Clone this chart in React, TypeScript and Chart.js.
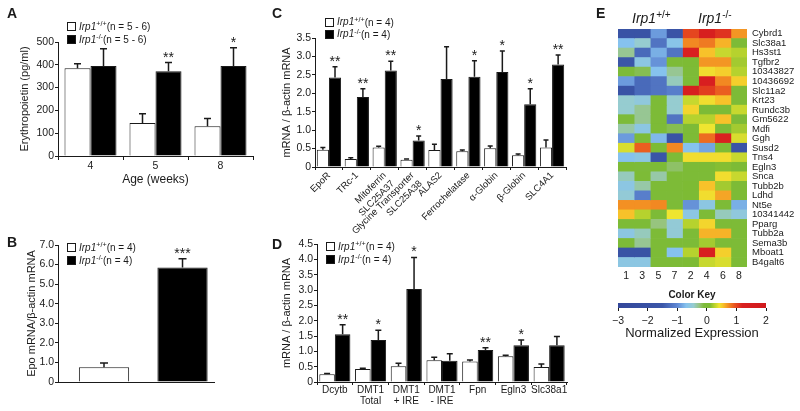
import React, { useEffect, useRef } from "react";
import { Chart, registerables } from "chart.js";

Chart.register(...registerables);

const FONT = "'Liberation Sans', Arial, Helvetica, sans-serif";
const INK = "#1a1a1a";
Chart.defaults.font.family = FONT;
Chart.defaults.color = INK;

// ---------- Panel A : serum erythropoietin ----------
const aAges = ["4", "5", "8"];
const aWT = [385, 145, 130];
const aWTErr = [20, 40, 35];
const aKO = [395, 372, 395];
const aKOErr = [75, 38, 80];
const aKOStars = ["", "**", "*"];

// ---------- Panel B : kidney Epo mRNA ----------
const bGenotypes = ["Irp1+/+", "Irp1-/-"];
const bValues = [0.75, 5.85];
const bErr = [0.22, 0.45];
const bStars = ["", "***"];

// ---------- Panel C : erythroid genes ----------
const cGenes = [
  ["EpoR"],
  ["TRc-1"],
  ["Mitoferrin", "SLC25A37"],
  ["Glycine Transporter", "SLC25A38"],
  ["ALAS2"],
  ["Ferrochelatase"],
  ["α-Globin"],
  ["β-Globin"],
  ["SLC4A1"],
];
const cWT = [0.47, 0.22, 0.53, 0.2, 0.46, 0.43, 0.51, 0.32, 0.53];
const cWTErr = [0.06, 0.03, 0.03, 0.02, 0.16, 0.03, 0.06, 0.03, 0.2];
const cKO = [2.43, 1.9, 2.62, 0.72, 2.39, 2.45, 2.58, 1.7, 2.78];
const cKOErr = [0.29, 0.22, 0.25, 0.12, 0.87, 0.43, 0.57, 0.42, 0.26];
const cKOStars = ["**", "**", "**", "*", "", "*", "*", "*", "**"];

// ---------- Panel D : iron transport genes ----------
const dGenes = [
  ["Dcytb"],
  ["DMT1", "Total"],
  ["DMT1", "+ IRE"],
  ["DMT1", "- IRE"],
  ["Fpn"],
  ["Egln3"],
  ["Slc38a1"],
];
const dWT = [0.25, 0.42, 0.51, 0.71, 0.67, 0.84, 0.49];
const dWTErr = [0.03, 0.03, 0.1, 0.1, 0.05, 0.03, 0.1];
const dKO = [1.56, 1.37, 3.03, 0.69, 1.04, 1.2, 1.2];
const dKOErr = [0.31, 0.32, 1.03, 0.23, 0.08, 0.17, 0.28];
const dKOStars = ["**", "*", "*", "", "**", "*", ""];

// ---------- Panel E : heatmap ----------
const heatSamples = ["1", "3", "5", "7", "2", "4", "6", "8"];
const heatGenes = [
  "Cybrd1", "Slc38a1", "Hs3st1", "Tgfbr2", "10343827", "10436692", "Slc11a2",
  "Krt23", "Rundc3b", "Gm5622", "Mdfi", "Ggh", "Susd2", "Tns4", "Egln3", "Snca",
  "Tubb2b", "Ldhd", "Nt5e", "10341442", "Pparg", "Tubb2a", "Sema3b", "Mboat1", "B4galt6",
];
const heatValues = [
  [-1.8, -1.8, -0.9, -1.7, 1.0, 1.4, 1.1, 0.7],
  [-0.7, -0.45, -1.2, -0.65, 0.75, 0.8, 0.6, 0.0],
  [-0.3, -1.3, -0.8, -1.2, 1.2, 0.55, 0.3, 0.25],
  [-1.5, -0.6, -0.95, 0.0, 0.1, 0.7, 0.7, 0.2],
  [-0.05, -0.15, -0.7, -0.3, 0.0, 0.45, 0.5, 0.25],
  [-0.9, -1.3, -1.2, -0.4, 0.0, 1.3, 0.75, 0.5],
  [-1.8, -1.3, -1.2, -1.1, 1.4, 1.05, 0.9, 0.0],
  [-0.45, -0.55, 0.0, -0.45, 0.3, 0.45, 0.55, 0.0],
  [-0.45, -0.3, 0.0, -0.45, 0.48, 0.05, 0.05, 0.3],
  [-0.1, -0.3, 0.0, -1.2, 0.25, 0.25, 0.55, 0.0],
  [-0.35, -0.6, 0.0, -0.15, 0.0, 0.42, 0.05, 0.2],
  [-0.9, 0.0, -0.75, -1.8, 0.05, 0.85, 1.2, 0.35],
  [0.35, 0.9, 0.05, 0.75, -0.7, -0.85, 0.0, -1.7],
  [-0.7, -0.6, -1.6, 0.0, 0.45, 0.45, 0.45, 0.3],
  [0.0, -0.1, 0.0, -0.2, 0.0, 0.05, 0.12, 0.05],
  [-0.4, 0.0, -0.35, 0.0, 0.0, 0.0, 0.45, 0.3],
  [-0.6, -0.35, 0.0, 0.0, 0.1, 0.55, 0.2, 0.05],
  [-0.5, -1.1, 0.0, 0.0, 0.1, 0.45, 0.65, 0.05],
  [0.72, 0.72, 0.75, 0.0, -0.95, -0.6, 0.0, -0.8],
  [0.55, 0.25, 0.0, 0.42, -0.6, 0.0, -0.4, -0.55],
  [0.0, 0.0, -0.25, -0.5, 0.25, 0.48, 0.0, 0.0],
  [-0.6, -0.4, 0.0, -0.5, 0.0, 0.6, 0.6, 0.0],
  [0.0, -0.3, 0.0, 0.0, 0.0, 0.2, 0.0, 0.0],
  [-1.8, -1.8, 0.0, -0.7, 0.25, 1.3, 0.5, 0.0],
  [-0.6, -0.6, 0.0, 0.0, 0.1, 0.3, 0.35, 0.0],
];
const keyRange = [-3, 2];
const keyStops: [number, string][] = [
  [-3, "#33479a"],
  [-1.5, "#3b56a8"],
  [-1.0, "#5f88d4"],
  [-0.7, "#86c2ee"],
  [-0.45, "#96ccd0"],
  [-0.25, "#97c47e"],
  [-0.1, "#7dbb3a"],
  [0.1, "#7dbb34"],
  [0.25, "#b6d22e"],
  [0.42, "#efe530"],
  [0.55, "#f7c22a"],
  [0.72, "#f39023"],
  [0.95, "#e8501f"],
  [1.2, "#d92020"],
  [2, "#d01a1d"],
];

function hexToRgb(h: string) {
  const n = parseInt(h.slice(1), 16);
  return [(n >> 16) & 255, (n >> 8) & 255, n & 255];
}
function colorFor(v: number) {
  if (v <= keyStops[0][0]) return keyStops[0][1];
  for (let i = 1; i < keyStops.length; i++) {
    const [v1, c1] = keyStops[i];
    const [v0, c0] = keyStops[i - 1];
    if (v <= v1) {
      const t = (v - v0) / (v1 - v0);
      const a = hexToRgb(c0);
      const b = hexToRgb(c1);
      const m = a.map((x, k) => Math.round(x + (b[k] - x) * t));
      return `rgb(${m[0]},${m[1]},${m[2]})`;
    }
  }
  return keyStops[keyStops.length - 1][1];
}

// ---------- error bars + significance stars ----------
const errorBarPlugin = {
  id: "errorBars",
  afterDatasetsDraw(chart: any) {
    const ctx = chart.ctx;
    chart.data.datasets.forEach((ds: any, i: number) => {
      if (!ds.errors) return;
      const meta = chart.getDatasetMeta(i);
      const ys = chart.scales[meta.yAxisID];
      meta.data.forEach((bar: any, j: number) => {
        const raw = ds.data[j];
        const v = typeof raw === "number" ? raw : raw.y;
        const top = ys.getPixelForValue(v + ds.errors[j]);
        const cap = ds.capHalf || 3;
        ctx.save();
        ctx.strokeStyle = INK;
        ctx.lineWidth = 1.5;
        ctx.beginPath();
        ctx.moveTo(bar.x, bar.y);
        ctx.lineTo(bar.x, top);
        ctx.moveTo(bar.x - cap, top);
        ctx.lineTo(bar.x + cap, top);
        ctx.stroke();
        if (ds.stars && ds.stars[j]) {
          ctx.fillStyle = INK;
          ctx.font = `14px ${FONT}`;
          ctx.textAlign = "center";
          ctx.textBaseline = "alphabetic";
          ctx.fillText(ds.stars[j], bar.x, top - 1);
        }
        ctx.restore();
      });
    });
  },
};

function yAxis(o: any) {
  return {
    min: o.min,
    max: o.max,
    ticks: {
      stepSize: o.step,
      callback: o.fmt,
      autoSkip: false,
      font: { size: 10.5 },
      color: INK,
      padding: 1,
    },
    grid: { display: true, drawOnChartArea: false, drawTicks: true, tickLength: 3, color: INK },
    border: { display: true, color: INK, width: 1 },
    title: {
      display: true,
      text: o.title,
      font: { size: 11 },
      color: INK,
      padding: { top: o.titlePad, bottom: 0 },
    },
    afterFit: (s: any) => {
      s.width = o.width;
    },
  };
}

const baseOpts = {
  responsive: false,
  animation: false,
  events: [],
  plugins: { legend: { display: false }, tooltip: { enabled: false } },
};

const oneDec = (v: any) => (Number(v) === 0 ? "0" : Number(v).toFixed(1));

function configA() {
  return {
    type: "bar",
    data: {
      labels: aAges,
      datasets: [
        { data: aWT, errors: aWTErr, capHalf: 3.5, backgroundColor: "#fff", borderColor: INK, borderWidth: 1, categoryPercentage: 0.8, barPercentage: 1 },
        { data: aKO, errors: aKOErr, stars: aKOStars, capHalf: 3.5, backgroundColor: "#000", borderColor: INK, borderWidth: 1, categoryPercentage: 0.8, barPercentage: 1 },
      ],
    },
    options: {
      ...baseOpts,
      layout: { padding: { top: 42, right: 9, left: 0, bottom: 0 } },
      scales: {
        x: {
          ticks: { font: { size: 10.5 }, color: INK, padding: 0 },
          grid: { display: true, drawOnChartArea: false, drawTicks: true, tickLength: 4, color: INK, offset: true },
          border: { display: true, color: INK },
          title: { display: true, text: "Age (weeks)", font: { size: 12 }, color: INK, padding: { top: 0, bottom: 8 } },
          afterFit: (s: any) => { s.height = 39; },
        },
        y: yAxis({ min: 0, max: 500, step: 100, fmt: (v: any) => String(v), title: "Erythropoietin (pg/ml)", titlePad: 18, width: 58 }),
      },
    },
    plugins: [errorBarPlugin],
  };
}

function configB() {
  return {
    type: "bar",
    data: {
      datasets: [
        {
          data: bGenotypes.map((_, i) => ({ x: i + 1, y: bValues[i] })),
          errors: bErr,
          stars: bStars,
          capHalf: 4,
          backgroundColor: ["#fff", "#000"],
          borderColor: INK,
          borderWidth: 1,
          categoryPercentage: 1,
          barPercentage: 0.64,
        },
      ],
    },
    options: {
      ...baseOpts,
      layout: { padding: { top: 45, right: 16, left: 0, bottom: 0 } },
      scales: {
        x: {
          type: "linear",
          offset: false,
          min: 0.414,
          max: 2.401,
          ticks: { display: false },
          grid: { display: false },
          border: { display: true, color: INK },
          afterFit: (s: any) => { s.height = 29; },
        },
        y: yAxis({ min: 0, max: 7, step: 1, fmt: oneDec, title: "Epo mRNA/β-actin mRNA", titlePad: 25, width: 58 }),
      },
    },
    plugins: [errorBarPlugin],
  };
}

function configC() {
  return {
    type: "bar",
    data: {
      labels: cGenes,
      datasets: [
        { data: cWT, errors: cWTErr, capHalf: 2.5, backgroundColor: "#fff", borderColor: INK, borderWidth: 1, categoryPercentage: 0.87, barPercentage: 1 },
        { data: cKO, errors: cKOErr, stars: cKOStars, capHalf: 2.5, backgroundColor: "#000", borderColor: INK, borderWidth: 1, categoryPercentage: 0.87, barPercentage: 1 },
      ],
    },
    options: {
      ...baseOpts,
      layout: { padding: { top: 38, right: 9, left: 0, bottom: 0 } },
      scales: {
        x: {
          ticks: { autoSkip: false, minRotation: 45, maxRotation: 45, font: { size: 9.5 }, color: INK, padding: 0 },
          grid: { display: true, drawOnChartArea: false, drawTicks: true, tickLength: 3, color: INK, offset: true },
          border: { display: true, color: INK },
          afterFit: (s: any) => { s.height = 73; },
        },
        y: yAxis({ min: 0, max: 3.5, step: 0.5, fmt: oneDec, title: "mRNA / β-actin mRNA", titlePad: 50, width: 85 }),
      },
    },
    plugins: [errorBarPlugin],
  };
}

function configD() {
  return {
    type: "bar",
    data: {
      labels: dGenes,
      datasets: [
        { data: dWT, errors: dWTErr, capHalf: 3, backgroundColor: "#fff", borderColor: INK, borderWidth: 1, categoryPercentage: 0.87, barPercentage: 1 },
        { data: dKO, errors: dKOErr, stars: dKOStars, capHalf: 3, backgroundColor: "#000", borderColor: INK, borderWidth: 1, categoryPercentage: 0.87, barPercentage: 1 },
      ],
    },
    options: {
      ...baseOpts,
      layout: { padding: { top: 44, right: 8, left: 0, bottom: 0 } },
      scales: {
        x: {
          ticks: { autoSkip: false, maxRotation: 0, font: { size: 10, lineHeight: 1.05 }, color: INK, padding: 0 },
          grid: { display: true, drawOnChartArea: false, drawTicks: true, tickLength: 3, color: INK, offset: true },
          border: { display: true, color: INK },
          afterFit: (s: any) => { s.height = 29; },
        },
        y: yAxis({ min: 0, max: 4.5, step: 0.5, fmt: oneDec, title: "mRNA / β-actin mRNA", titlePad: 50, width: 87 }),
      },
    },
    plugins: [errorBarPlugin],
  };
}

function configHeat() {
  return {
    type: "bar",
    data: {
      labels: heatGenes,
      datasets: heatSamples.map((s, ci) => ({
        label: s,
        data: heatGenes.map(() => 1),
        backgroundColor: heatValues.map((row) => colorFor(row[ci])),
        borderWidth: 0,
        barPercentage: 1,
        categoryPercentage: 1,
      })),
    },
    options: {
      ...baseOpts,
      indexAxis: "y",
      layout: { padding: { top: 29, right: 0, left: 23, bottom: 0 } },
      scales: {
        x: {
          type: "linear",
          stacked: true,
          min: 0,
          max: heatSamples.length,
          afterBuildTicks: (s: any) => {
            s.ticks = heatSamples.map((_, i) => ({ value: i + 0.5 }));
          },
          ticks: {
            autoSkip: false,
            font: { size: 10.5 },
            color: INK,
            padding: 3,
            callback: (v: any) => heatSamples[Math.floor(Number(v))],
          },
          grid: { display: false, drawTicks: false },
          border: { display: false },
          afterFit: (s: any) => { s.height = 23; },
        },
        y: {
          stacked: true,
          position: "right",
          ticks: { autoSkip: false, font: { size: 9.5 }, color: INK, padding: 5 },
          grid: { display: false, drawTicks: false },
          border: { display: false },
          afterFit: (s: any) => { s.width = 53; },
        },
      },
    },
  };
}

function configKey() {
  return {
    type: "bar",
    data: {
      labels: ["key"],
      datasets: [
        {
          data: [keyRange],
          borderWidth: 0,
          barPercentage: 1,
          categoryPercentage: 1,
          backgroundColor: (c: any) => {
            const ch = c.chart;
            const xs = ch.scales && ch.scales.x;
            if (!ch.chartArea || !xs) return "#7dbb34";
            const x0 = xs.getPixelForValue(keyRange[0]);
            const x1 = xs.getPixelForValue(keyRange[1]);
            const g = ch.ctx.createLinearGradient(x0, 0, x1, 0);
            keyStops.forEach(([v, col]) => g.addColorStop((v - keyRange[0]) / (keyRange[1] - keyRange[0]), col));
            return g;
          },
        },
      ],
    },
    options: {
      ...baseOpts,
      indexAxis: "y",
      layout: { padding: { top: 18, right: 34, left: 23, bottom: 0 } },
      scales: {
        x: {
          type: "linear",
          min: keyRange[0],
          max: keyRange[1],
          ticks: {
            stepSize: 1,
            font: { size: 10.5 },
            color: INK,
            padding: 4,
            callback: (v: any) => (Number(v) < 0 ? "\u2212" + Math.abs(Number(v)) : String(v)),
          },
          grid: { display: true, drawOnChartArea: false, drawTicks: true, tickLength: 3, color: INK },
          border: { display: false },
          title: { display: true, text: "Normalized Expression", font: { size: 13 }, color: INK, padding: { top: 0, bottom: 4 } },
          afterFit: (s: any) => { s.height = 37; },
        },
        y: { display: false },
      },
    },
  };
}

function ChartCanvas(p: { left: number; top: number; width: number; height: number; make: () => any }) {
  const ref = useRef<HTMLCanvasElement>(null);
  useEffect(() => {
    const chart = new Chart(ref.current as HTMLCanvasElement, p.make());
    return () => chart.destroy();
  }, []);
  return (
    <canvas
      ref={ref}
      width={p.width}
      height={p.height}
      style={{ position: "absolute", left: p.left, top: p.top, width: p.width, height: p.height }}
    />
  );
}

function Genotype(p: { sup: string }) {
  return (
    <span>
      <i>Irp1</i>
      <span style={{ fontSize: "0.72em", position: "relative", top: "-0.45em" }}>{p.sup}</span>
    </span>
  );
}

function Legend(p: { left: number; top: number; n: string; gap?: number }) {
  const rows = [
    { fill: "#fff", sup: "+/+" },
    { fill: "#000", sup: "-/-" },
  ];
  return (
    <div style={{ position: "absolute", left: p.left, top: p.top, fontSize: 10, lineHeight: "13px" }}>
      {rows.map((r, i) => (
        <div key={i} style={{ display: "flex", alignItems: "center", height: p.gap || 13, whiteSpace: "nowrap" }}>
          <span
            style={{
              display: "inline-block",
              width: 7,
              height: 7,
              border: `1px solid ${INK}`,
              background: r.fill,
              marginRight: 3,
            }}
          />
          <Genotype sup={r.sup} />
          <span>{p.n}</span>
        </div>
      ))}
    </div>
  );
}

function Letter(p: { x: number; y: number; t: string }) {
  return (
    <div style={{ position: "absolute", left: p.x, top: p.y, fontSize: 14, fontWeight: "bold", lineHeight: "14px" }}>{p.t}</div>
  );
}

export default function App() {
  return (
    <div
      style={{
        position: "absolute",
        left: 0,
        top: 0,
        width: 800,
        height: 411,
        background: "#fff",
        overflow: "hidden",
        fontFamily: FONT,
        color: INK,
      }}
    >
      <ChartCanvas left={0} top={0} width={262} height={195} make={configA} />
      <ChartCanvas left={0} top={200} width={230} height={211} make={configB} />
      <ChartCanvas left={230} top={0} width={345} height={240} make={configC} />
      <ChartCanvas left={230} top={200} width={345} height={211} make={configD} />
      <ChartCanvas left={595} top={0} width={205} height={290} make={configHeat} />
      <ChartCanvas left={595} top={285} width={205} height={60} make={configKey} />

      <Letter x={7} y={6} t="A" />
      <Letter x={7} y={235} t="B" />
      <Letter x={272} y={6} t="C" />
      <Letter x={272} y={237} t="D" />
      <Letter x={596} y={6} t="E" />

      <Legend left={67} top={20} n="(n = 5 - 6)" />
      <Legend left={67} top={241} n="(n = 4)" />
      <Legend left={325} top={16} n="(n = 4)" gap={12} />
      <Legend left={326} top={240} n="(n = 4)" />

      <div style={{ position: "absolute", left: 632, top: 10, fontSize: 14, lineHeight: "16px" }}>
        <Genotype sup="+/+" />
      </div>
      <div style={{ position: "absolute", left: 698, top: 10, fontSize: 14, lineHeight: "16px" }}>
        <Genotype sup="-/-" />
      </div>
      <div
        style={{
          position: "absolute",
          left: 652,
          width: 80,
          top: 289,
          textAlign: "center",
          fontSize: 10,
          fontWeight: "bold",
          lineHeight: "12px",
        }}
      >
        Color Key
      </div>
    </div>
  );
}
